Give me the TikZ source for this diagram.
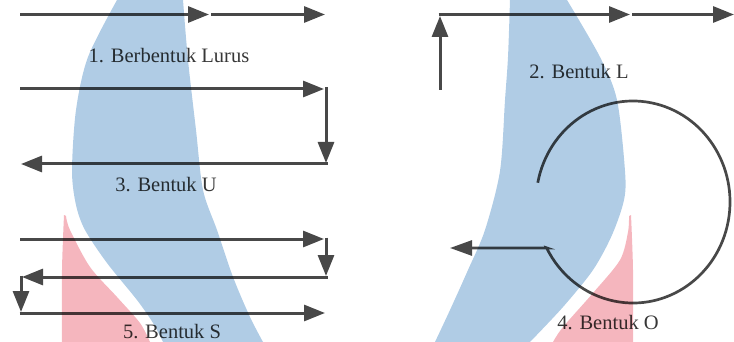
\documentclass[tikz,border=0pt]{standalone}
\usepackage{fontspec}
\setmainfont{Liberation Serif}
\newfontfamily\lblfont{Liberation Serif}
\usetikzlibrary{arrows.meta,calc}
\definecolor{wmblue}{RGB}{176,204,229}
\definecolor{wmred}{RGB}{245,182,190}
\definecolor{lncol}{RGB}{72,72,72}
\definecolor{txcol}{RGB}{55,55,55}
\begin{document}
\begin{tikzpicture}[x=1pt,y=-1pt,
  flow/.style={draw=lncol, line width=3pt},
  arr/.style={flow, -{Triangle[length=21pt,width=16pt]}},
  lbl/.style={text=txcol, font=\lblfont\fontsize{20.5}{24}\selectfont, anchor=base, inner sep=0pt}]
\useasboundingbox (0,0) rectangle (734,342);
% 1. Lurus
\coordinate (a1) at (20,14.5);
\coordinate (a2) at (209,14.5);
\coordinate (a3) at (211,14.5);
\coordinate (a4) at (325,14.5);
\draw[arr] (a1) -- (a2);
\draw[arr] (a3) -- (a4);
\node[lbl] (t1) at (169,63) {1. Berbentuk Lurus};
% 2. L
\coordinate (l0) at (440,90);
\coordinate (l1) at (440,16);
\coordinate (l1b) at (438.5,14.5);
\coordinate (l2) at (630,14.5);
\coordinate (l3) at (632,14.5);
\coordinate (l4) at (734,14.5);
\draw[arr] (l0) -- (l1);
\draw[arr] (l1b) -- (l2);
\draw[arr] (l3) -- (l4);
\node[lbl] (t2) at (579,79) {2. Bentuk L};
% 3. U
\coordinate (u1) at (20,89);
\coordinate (u2) at (324,89);
\coordinate (u3) at (326,87.5);
\coordinate (u4) at (326,163);
\coordinate (u5) at (327.5,164);
\coordinate (u6) at (21,164);
\draw[arr] (u1) -- (u2);
\draw[arr] (u3) -- (u4);
\draw[arr] (u5) -- (u6);
\node[lbl] (t3) at (166,192) {3. Bentuk U};
% 5. S
\coordinate (s1) at (20,239);
\coordinate (s2) at (324,239);
\coordinate (s3) at (326,237.5);
\coordinate (s4) at (326,276);
\coordinate (s5) at (327.5,277);
\coordinate (s6) at (22,277);
\coordinate (s7) at (21,275.5);
\coordinate (s8) at (21,312);
\coordinate (s9) at (19.5,313);
\coordinate (s10) at (325,313);
\draw[arr] (s1) -- (s2);
\draw[arr] (s3) -- (s4);
\draw[arr] (s5) -- (s6);
\draw[arr] (s7) -- (s8);
\draw[arr] (s9) -- (s10);
\node[lbl] (t5) at (172,338) {5. Bentuk S};
% 4. O
\coordinate (oc) at (633,202);
\coordinate (obend) at (547,248);
\coordinate (otip) at (450,248);
\draw[flow, line width=2.7pt, -{Triangle[length=22pt,width=15pt]}]
  ($(oc)+(-169:97 and 101)$) arc[start angle=-169, end angle=153, x radius=97, y radius=101]
  -- (obend) -- (otip);
\node[lbl] (t4) at (608,329) {4. Bentuk O};
% watermark, multiplied over the drawing
\begin{scope}[blend mode=multiply]
\fill[wmblue] plot[smooth] coordinates {(117,0)(88,57)(76,110)(72,171)(76,205)(85,230)(107,263)(137,300)(153,323)(163,342)}
  -- plot[smooth] coordinates {(263,342)(250,317)(233,277)(217,230)(203,190)(196,130)(188,60)(183,0)} -- cycle;
\fill[wmred] plot[smooth] coordinates {(62,342)(62,270)(64,215)}
  -- plot[smooth] coordinates {(66,216)(70,230)(90,267)(117,297)(140,323)(150,342)} -- cycle;
\fill[wmblue] plot[smooth] coordinates {(510,0)(508,57)(505,100)(500,171)(485,230)(468,270)(450,310)(435,342)}
  -- plot[smooth] coordinates {(530,342)(563,307)(593,270)(612,235)(624,200)(625,171)(617,100)(600,57)(567,0)} -- cycle;
\fill[wmred] plot[smooth] coordinates {(633,342)(633,270)(631,215)}
  -- plot[smooth] coordinates {(629,216)(628,232)(620,260)(593,293)(563,327)(553,342)} -- cycle;
\end{scope}
\end{tikzpicture}
\end{document}
